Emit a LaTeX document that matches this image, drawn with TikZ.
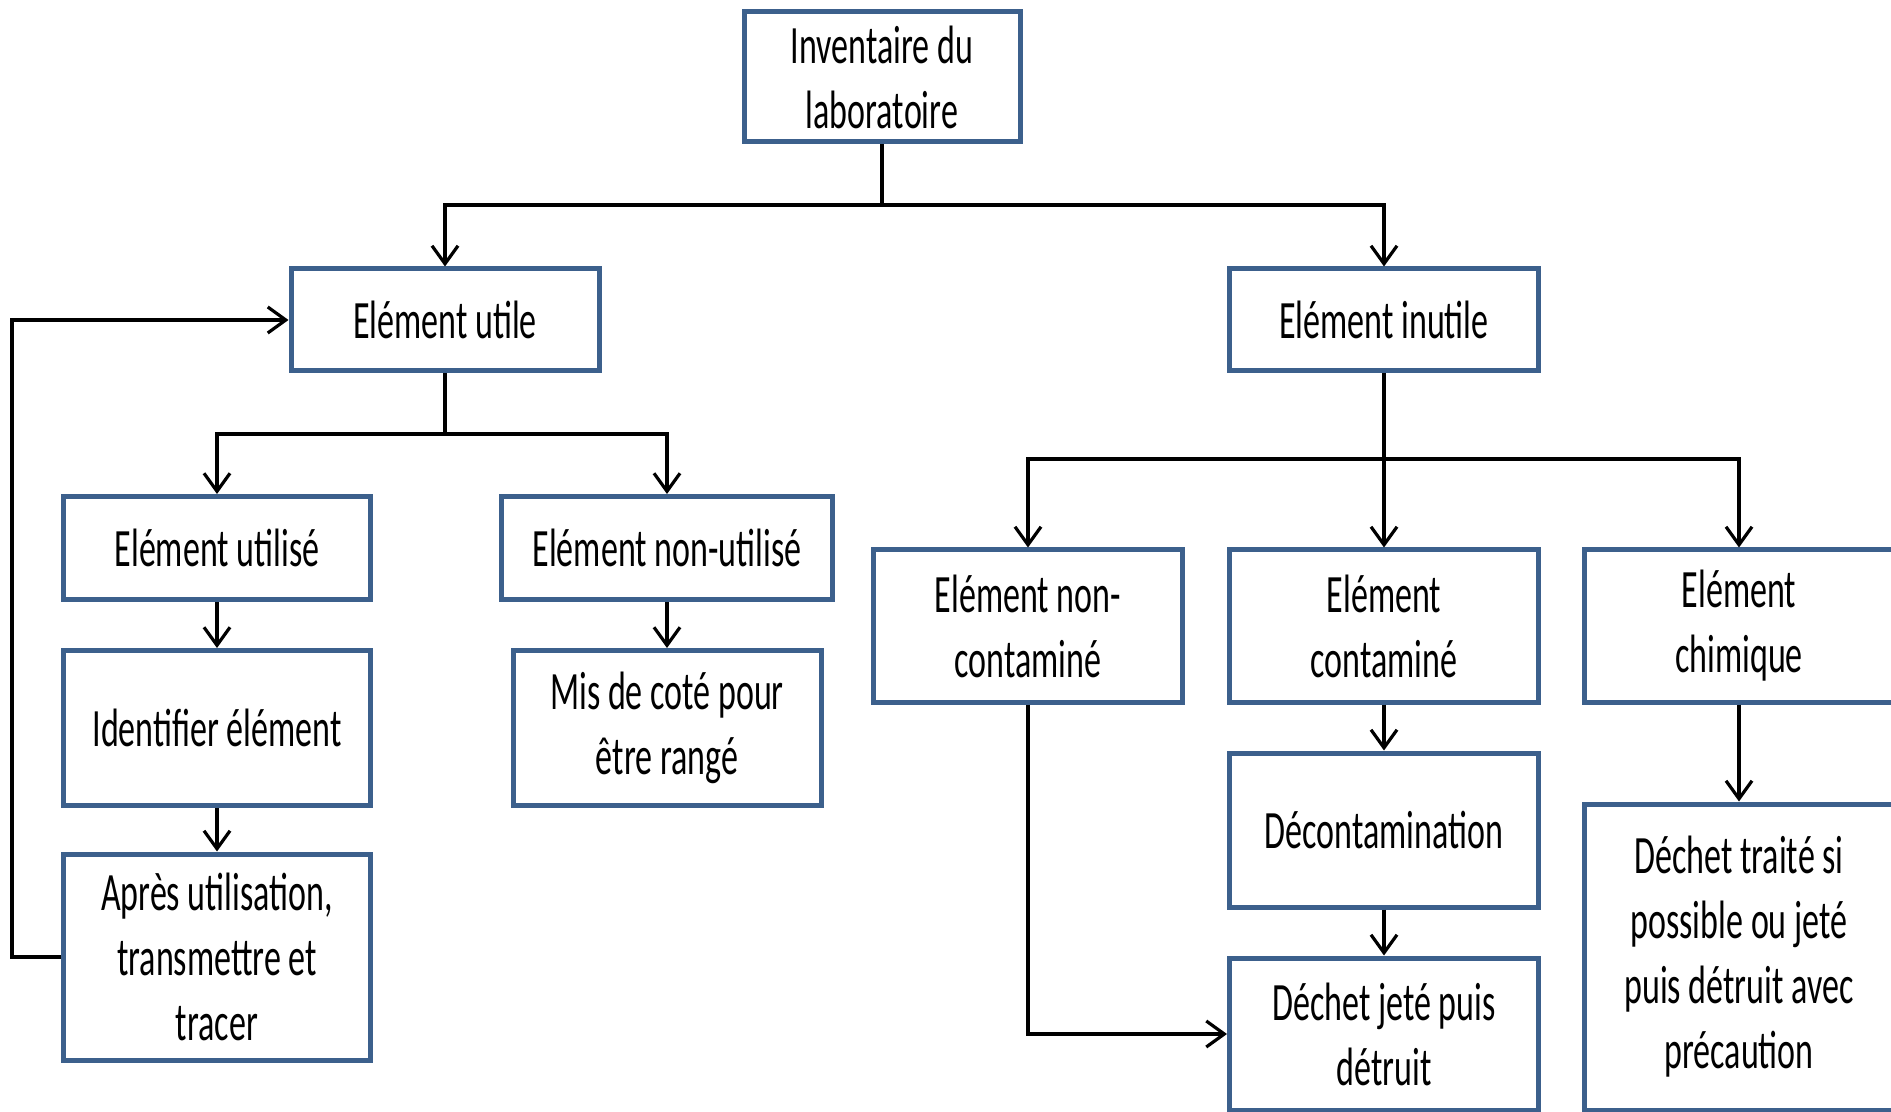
\documentclass[tikz,border=0pt]{standalone}
\usepackage{fontspec}
\setmainfont{Carlito}[FakeStretch=0.63]
\usetikzlibrary{arrows.meta}
\definecolor{bordc}{RGB}{60,96,140}
\begin{document}
\begin{tikzpicture}[x=0.5pt,y=-0.5pt,
  box/.style={draw=bordc, line width=2.5pt, inner sep=0pt, align=center, fill=white,
    font=\fontsize{27}{32.5}\selectfont},
  line/.style={line width=1.6pt},
  conn/.style={line width=1.6pt, -{Straight Barb[length=9pt,width=13pt,line width=1.6pt]}}]
\useasboundingbox (0,0) rectangle (1891,1112);
\node[box, minimum width=138pt, minimum height=65pt] (inv) at (882,77) {Inventaire du\\laboratoire};
\node[box, minimum width=154pt, minimum height=51pt] (utile) at (445,320) {Elément utile};
\node[box, minimum width=154.5pt, minimum height=51pt] (inutile) at (1384,320) {Elément inutile};
\node[box, minimum width=153.5pt, minimum height=51.5pt] (utilise) at (217,548) {Elément utilisé};
\node[box, minimum width=165.5pt, minimum height=51.5pt] (nonutil) at (667,548) {Elément non-utilisé};
\node[box, minimum width=153.5pt, minimum height=77.5pt] (ident) at (217,728) {Identifier élément};
\node[box, minimum width=154pt, minimum height=77.5pt] (mis) at (667,728) {Mis de coté pour\\être rangé};
\node[box, minimum width=153.5pt, minimum height=103pt] (apres) at (217,957) {Après utilisation,\\transmettre et\\tracer};
\node[box, minimum width=154.5pt, minimum height=76pt] (noncont) at (1028,626) {Elément non-\\contaminé};
\node[box, minimum width=154.5pt, minimum height=76pt] (cont) at (1384,626) {Elément\\contaminé};
\node[box, minimum width=154.5pt, minimum height=76pt] (chim) at (1739,626) {Elément\\chimique};
\node[box, minimum width=154.5pt, minimum height=77pt] (decont) at (1384,830) {Décontamination};
\node[box, minimum width=154.5pt, minimum height=76pt] (jete) at (1384,1034) {Déchet jeté puis\\détruit};
\node[box, minimum width=154.5pt, minimum height=153pt] (traite) at (1739,957) {Déchet traité si\\possible ou jeté\\puis détruit avec\\précaution};

\coordinate (b1) at (882,205);
\coordinate (b2) at (445,434);
\coordinate (b3) at (1384,459);
\coordinate (lp) at (12,957);

\draw[line] (inv.south) -- (b1);
\draw[conn] (b1) -| (utile.north);
\draw[conn] (b1) -| (inutile.north);

\draw[line] (utile.south) -- (b2);
\draw[conn] (b2) -| (utilise.north);
\draw[conn] (b2) -| (nonutil.north);
\draw[conn] (utilise) -- (ident);
\draw[conn] (ident) -- (apres);
\draw[conn] (nonutil) -- (mis);
\draw[conn] (apres.west) -- (lp) |- (utile.west);

\draw[line] (inutile.south) -- (b3);
\draw[conn] (b3) -| (noncont.north);
\draw[conn] (b3) -- (cont.north);
\draw[conn] (b3) -| (chim.north);
\draw[conn] (cont) -- (decont);
\draw[conn] (decont) -- (jete);
\draw[conn] (chim) -- (traite);
\draw[conn] (noncont.south) |- (jete.west);
\end{tikzpicture}
\end{document}
